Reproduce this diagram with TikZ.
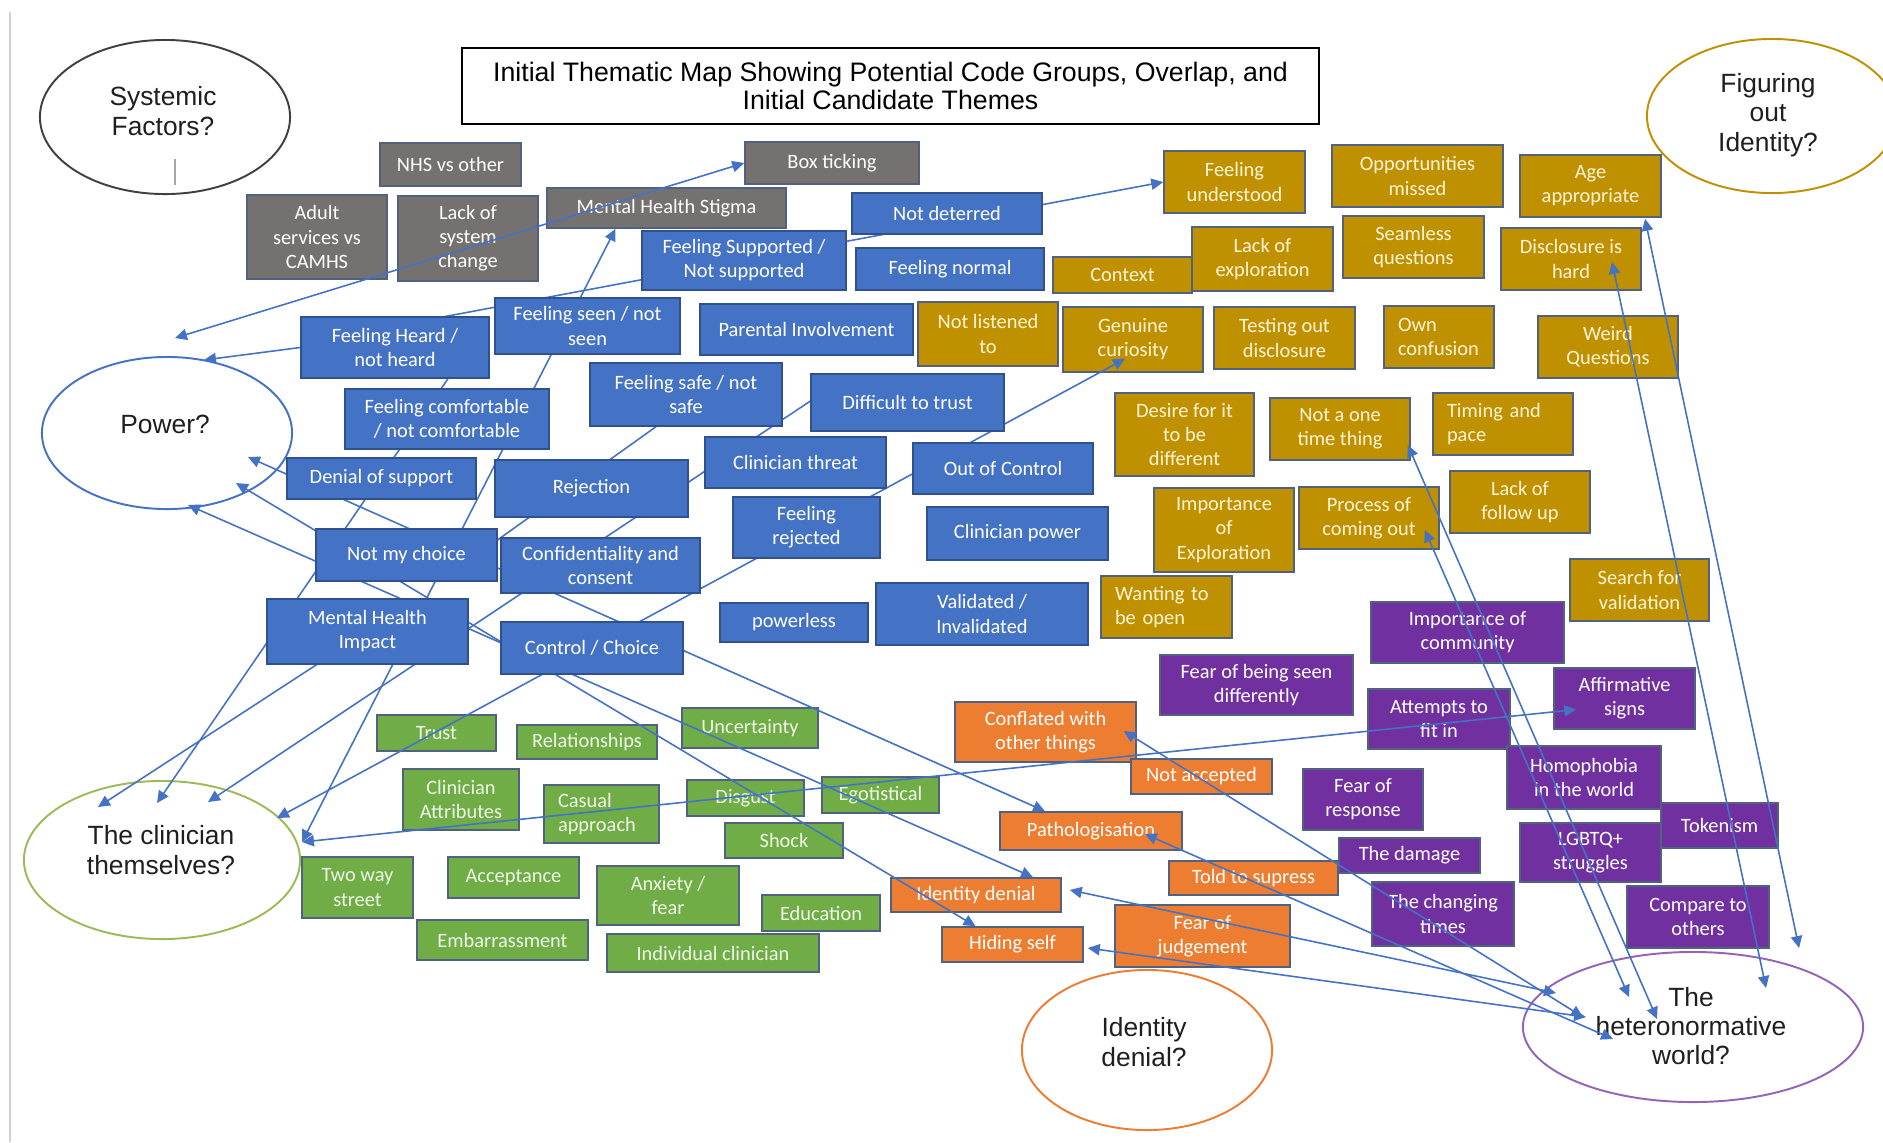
\documentclass[tikz,border=0pt]{standalone}
\usepackage{fontspec}
\setmainfont{Carlito}
\newfontfamily\arialfam{Liberation Sans}
\usetikzlibrary{shapes.geometric,arrows.meta,calc}
\pgfdeclarelayer{bg}
\pgfdeclarelayer{lines}
\pgfsetlayers{bg,lines,main}
\definecolor{cblue}{HTML}{4472C4}
\definecolor{cblueE}{HTML}{2F528F}
\definecolor{cgrey}{HTML}{767171}
\definecolor{cgold}{HTML}{BF9000}
\definecolor{cgreen}{HTML}{70AD47}
\definecolor{corange}{HTML}{ED7D31}
\definecolor{cpurple}{HTML}{7030A0}
\definecolor{cedge}{HTML}{50627F}
\definecolor{cline}{HTML}{4472C4}
\definecolor{colive}{HTML}{9BBB59}
\definecolor{cgoldtxt}{HTML}{FFF4D6}
\definecolor{cgreentxt}{HTML}{EEF7E8}
\newcommand\bxfont{\fontsize{5.8}{6.85}\selectfont}
\newcommand\elfont{\arialfam\fontsize{7.5}{8.3}\selectfont}
\newcommand\ttlfont{\arialfam\fontsize{7.6}{7.9}\selectfont}
\newcommand\mkbox[7]{%
  \pgfmathsetmacro\mybw{(#4-#2)*0.01}%
  \pgfmathsetmacro\mybh{(#5-#3)*0.01}%
  \node[#6,minimum width=\mybw cm,minimum height=\mybh cm] (#1) at ({(#2+#4)/2},{(#3+#5)/2}) {#7};}
\newcommand\mkboxl[7]{%
  \pgfmathsetmacro\mybw{(#4-#2)*0.01}%
  \pgfmathsetmacro\mybh{(#5-#3)*0.01}%
  \pgfmathsetmacro\mytw{(#4-#2-28)*0.01}%
  \node[#6,align=left,text width=\mytw cm,minimum width=\mybw cm,minimum height=\mybh cm] (#1) at ({(#2+#4)/2},{(#3+#5)/2}) {#7};}
\begin{document}
\begin{tikzpicture}[x=0.01cm,y=-0.01cm,
  box/.style={rectangle,inner sep=0pt,align=center,font=\bxfont,line width=0.45pt},
  bluebox/.style={box,fill=cblue,draw=cblueE,text=white},
  greybox/.style={box,fill=cgrey,draw=cedge,text=white},
  goldbox/.style={box,fill=cgold,draw=cedge,text=cgoldtxt},
  greenbox/.style={box,fill=cgreen,draw=cedge,text=cgreentxt},
  orangebox/.style={box,fill=corange,draw=cedge,text=white},
  purplebox/.style={box,fill=cpurple,draw=cedge,text=white},
  oval/.style={ellipse,inner sep=0pt,line width=0.55pt},
  lbl/.style={font=\elfont,align=center,text=black!88,inner sep=0pt},
  con/.style={draw=cline,line width=0.45pt},
  ar/.style={con,-{Triangle[length=3.4pt,width=3.2pt]}},
  dar/.style={con,{Triangle[length=3.4pt,width=3.2pt]}-{Triangle[length=3.4pt,width=3.2pt]}}]
\useasboundingbox (0,0) rectangle (1883,1142);
\begin{pgfonlayer}{bg}
\fill[white] (0,0) rectangle (1883,1142);
\draw[black!18,line width=0.8pt] (10,12) -- (10,1142);

% ellipses
\node[oval,draw=black!75,minimum width=2.5cm,minimum height=1.54cm] (sys) at (165,117) {};
\node[oval,draw=cblue,minimum width=2.5cm,minimum height=1.52cm] (power) at (167,433) {};
\node[oval,draw=colive,minimum width=2.76cm,minimum height=1.58cm] (clin) at (162,860) {};
\node[oval,draw=corange,minimum width=2.5cm,minimum height=1.6cm] (idd) at (1147,1050) {};
\node[oval,draw=cpurple!75,minimum width=3.4cm,minimum height=1.5cm] (het) at (1693,1027) {};
\node[oval,draw=cgold,minimum width=2.5cm,minimum height=1.54cm] (fig) at (1772,116) {};
\draw[black!35,line width=0.5pt] ($(sys)+(10,42)$) -- ($(sys)+(10,68)$);

\node[lbl] (sysT) at (163,111) {Systemic\\Factors?};
\node[lbl] (powT) at (165,424) {Power?};
\node[lbl] (clinT) at (161,850) {The clinician\\themselves?};
\node[lbl] (iddT) at (1144,1042) {Identity\\denial?};
\node[lbl] (hetT) at (1691,1026) {The\\heteronormative\\world?};
\node[lbl] (figT) at (1768,115) {Figuring\\out\\Identity?};

% title
\node[draw=black,line width=0.6pt,minimum width=8.57cm,minimum height=0.76cm,font=\ttlfont,align=center,inner sep=0pt] (title) at (890.5,86) {Initial Thematic Map Showing Potential Code Groups, Overlap, and\\Initial Candidate Themes};

% grey
\mkbox{nhs}{380}{143}{521}{186}{greybox}{NHS vs other}
\mkbox{adult}{247}{195}{387}{279}{greybox}{Adult\\services vs\\CAMHS}
\mkbox{lsc}{398}{196}{538}{281}{greybox}{Lack of\\system\\change}
\mkbox{mhs}{547}{188}{786}{228}{greybox}{Mental Health Stigma}
\mkbox{boxt}{745}{142}{919}{184}{greybox}{Box ticking}

% gold
\mkbox{fund}{1164}{151}{1305}{213}{goldbox}{Feeling\\understood}
\mkbox{opp}{1332}{145}{1503}{207}{goldbox}{Opportunities\\missed}
\mkbox{age}{1520}{155}{1661}{217}{goldbox}{Age\\appropriate}
\mkbox{context}{1053}{257}{1192}{293}{goldbox}{Context}
\mkbox{lexp}{1192}{227}{1333}{291}{goldbox}{Lack of\\exploration}
\mkbox{seam}{1343}{216}{1484}{278}{goldbox}{Seamless\\questions}
\mkbox{discl}{1501}{228}{1641}{290}{goldbox}{Disclosure is\\hard}
\mkbox{nlist}{918}{302}{1058}{366}{goldbox}{Not listened\\to}
\mkbox{genu}{1063}{307}{1203}{372}{goldbox}{Genuine\\curiosity}
\mkbox{test}{1214}{307}{1355}{369}{goldbox}{Testing out\\disclosure}
\mkboxl{own}{1384}{306}{1494}{368}{goldbox}{Own\\confusion}
\mkbox{weird}{1538}{316}{1678}{378}{goldbox}{Weird\\Questions}
\mkbox{desire}{1115}{393}{1254}{476}{goldbox}{Desire for it\\to be\\different}
\mkbox{once}{1270}{398}{1410}{460}{goldbox}{Not a one\\time thing}
\mkboxl{timing}{1433}{393}{1573}{455}{goldbox}{Timing and\\pace}
\mkbox{impexp}{1154}{488}{1294}{572}{goldbox}{Importance\\of\\Exploration}
\mkbox{proc}{1299}{487}{1439}{549}{goldbox}{Process of\\coming out}
\mkbox{follow}{1450}{471}{1590}{533}{goldbox}{Lack of\\follow up}
\mkboxl{want}{1101}{576}{1232}{638}{goldbox}{Wanting to\\be open}
\mkbox{search}{1570}{559}{1709}{621}{goldbox}{Search for\\validation}

% purple
\mkbox{community}{1371}{602}{1564}{663}{purplebox}{Importance of\\community}
\mkbox{fseendiff}{1160}{655}{1353}{715}{purplebox}{Fear of being seen\\differently}
\mkbox{affirm}{1554}{668}{1695}{729}{purplebox}{Affirmative\\signs}
\mkbox{attempts}{1368}{689}{1510}{749}{purplebox}{Attempts to\\fit in}
\mkbox{homoph}{1507}{746}{1661}{809}{purplebox}{Homophobia\\in the world}
\mkbox{fresp}{1303}{769}{1423}{830}{purplebox}{Fear of\\response}
\mkbox{token}{1661}{803}{1778}{848}{purplebox}{Tokenism}
\mkbox{damage}{1339}{838}{1480}{873}{purplebox}{The damage}
\mkbox{lgbtq}{1520}{823}{1661}{882}{purplebox}{LGBTQ+\\struggles}
\mkbox{changing}{1372}{882}{1514}{946}{purplebox}{The changing\\times}
\mkbox{compare}{1627}{886}{1769}{948}{purplebox}{Compare to\\others}

% orange
\mkbox{conflated}{955}{702}{1136}{762}{orangebox}{Conflated with\\other things}
\mkbox{notacc}{1131}{759}{1272}{794}{orangebox}{Not accepted}
\mkbox{pathol}{1000}{812}{1182}{850}{orangebox}{Pathologisation}
\mkbox{told}{1169}{861}{1338}{895}{orangebox}{Told to supress}
\mkbox{iddenial}{891}{878}{1061}{912}{orangebox}{Identity denial}
\mkbox{fjudge}{1115}{905}{1290}{967}{orangebox}{Fear of\\judgement}
\mkbox{hiding}{942}{927}{1083}{962}{orangebox}{Hiding self}

% green
\mkbox{trust}{377}{715}{496}{751}{greenbox}{Trust}
\mkbox{relat}{517}{725}{657}{759}{greenbox}{Relationships}
\mkbox{uncert}{682}{708}{818}{748}{greenbox}{Uncertainty}
\mkbox{cattr}{403}{769}{519}{830}{greenbox}{Clinician\\Attributes}
\mkboxl{casual}{544}{785}{659}{843}{greenbox}{Casual\\approach}
\mkbox{disgust}{687}{780}{804}{816}{greenbox}{Disgust}
\mkbox{ego}{822}{777}{939}{813}{greenbox}{Egotistical}
\mkbox{shock}{725}{823}{843}{858}{greenbox}{Shock}
\mkbox{twoway}{302}{857}{413}{918}{greenbox}{Two way\\street}
\mkbox{accept}{448}{857}{579}{898}{greenbox}{Acceptance}
\mkbox{anx}{597}{866}{739}{925}{greenbox}{Anxiety /\\fear}
\mkbox{edu}{762}{895}{880}{931}{greenbox}{Education}
\mkbox{embar}{417}{920}{588}{960}{greenbox}{Embarrassment}
\mkbox{indiv}{607}{934}{819}{972}{greenbox}{Individual clinician}
\end{pgfonlayer}

% blue boxes (main layer, above connectors)
\mkbox{notdet}{852}{193}{1042}{234}{bluebox}{Not deterred}
\mkbox{fsup}{642}{231}{846}{290}{bluebox}{Feeling Supported /\\Not supported}
\mkbox{fnorm}{856}{248}{1044}{290}{bluebox}{Feeling normal}
\mkbox{fheard}{301}{317}{489}{378}{bluebox}{Feeling Heard /\\not heard}
\mkbox{fseen}{495}{298}{680}{354}{bluebox}{Feeling seen / not\\seen}
\mkbox{parent}{700}{304}{913}{355}{bluebox}{Parental Involvement}
\mkbox{fcomf}{345}{389}{549}{449}{bluebox}{Feeling comfortable\\/ not comfortable}
\mkbox{fsafe}{590}{363}{782}{426}{bluebox}{Feeling safe / not\\safe}
\mkbox{dtt}{811}{374}{1004}{431}{bluebox}{Difficult to trust}
\mkbox{denial}{287}{458}{476}{499}{bluebox}{Denial of support}
\mkbox{reject}{495}{460}{688}{517}{bluebox}{Rejection}
\mkbox{cthreat}{705}{437}{886}{488}{bluebox}{Clinician threat}
\mkbox{ooc}{913}{443}{1093}{494}{bluebox}{Out of Control}
\mkbox{nmc}{316}{529}{497}{581}{bluebox}{Not my choice}
\mkbox{conf}{501}{538}{700}{593}{bluebox}{Confidentiality and\\consent}
\mkbox{frej}{733}{497}{880}{558}{bluebox}{Feeling\\rejected}
\mkbox{cpow}{927}{507}{1108}{560}{bluebox}{Clinician power}
\mkbox{mhi}{267}{599}{468}{664}{bluebox}{Mental Health\\Impact}
\mkbox{cc}{501}{622}{683}{674}{bluebox}{Control / Choice}
\mkbox{powerless}{720}{603}{868}{642}{bluebox}{powerless}
\mkbox{valid}{876}{583}{1088}{645}{bluebox}{Validated /\\Invalidated}

% connectors
\begin{pgfonlayer}{lines}
\coordinate (pA) at (175,338);
\draw[dar] (pA) -- (boxt.west);
\draw[ar] (fheard.west) -- ($(power)+(37,-73)$);
\draw[ar] ($(fheard.north)+(25,5)$) -- (fund.west);
\draw[dar] ($(power)+(81,24)$) -- ($(pathol.north)+(-46,0)$);
\draw[dar] ($(power)+(69,50)$) -- ($(hiding.north)+(-37,0)$);
\draw[dar] ($(power)+(21,72)$) -- ($(iddenial.north)+(57,0)$);
\draw[ar] (mhi.center) -- ($(clin)+(-64,-53)$);
\draw[ar] ($(fheard.south)+(57,-6)$) -- ($(clin)+(-5,-57)$);
\draw[ar] ($(dtt.west)+(19,-14)$) -- ($(clin)+(46,-58)$);
\draw[dar] ($(clin)+(115,-42)$) -- ($(genu.south)+(-8,-14)$);
\draw[dar] ($(mhs.south)+(-51,0)$) -- ($(clin)+(140,-18)$);
\draw[con] ($(fsafe.center)+(-6,15)$) -- ($(nmc.center)+(63,5)$);
\draw[dar] ($(clin)+(140,-18)$) -- ($(affirm.west)+(23,11)$);
\draw[dar] ($(conflated.east)+(-13,-1)$) -- ($(het)+(-110,-10)$);
\draw[dar] ($(pathol.east)+(-38,3)$) -- ($(het)+(-80,12)$);
\draw[dar] ($(iddenial.east)+(8,-5)$) -- ($(het)+(-137,-34)$);
\draw[dar] ($(hiding.east)+(4,3.5)$) -- ($(het)+(-107,-10)$);
\draw[dar] ($(once.east)+(-3,16)$) -- ($(het)+(-36,-8)$);
\draw[dar] ($(proc.east)+(-15,12)$) -- ($(het)+(-64,-30)$);
\draw[dar] ($(discl.center)+(41,3)$) -- ($(het)+(73,-39)$);
\draw[dar] ($(age.south)+(54.5,1)$) -- ($(het)+(106,-79)$);
\end{pgfonlayer}
\end{tikzpicture}
\end{document}
